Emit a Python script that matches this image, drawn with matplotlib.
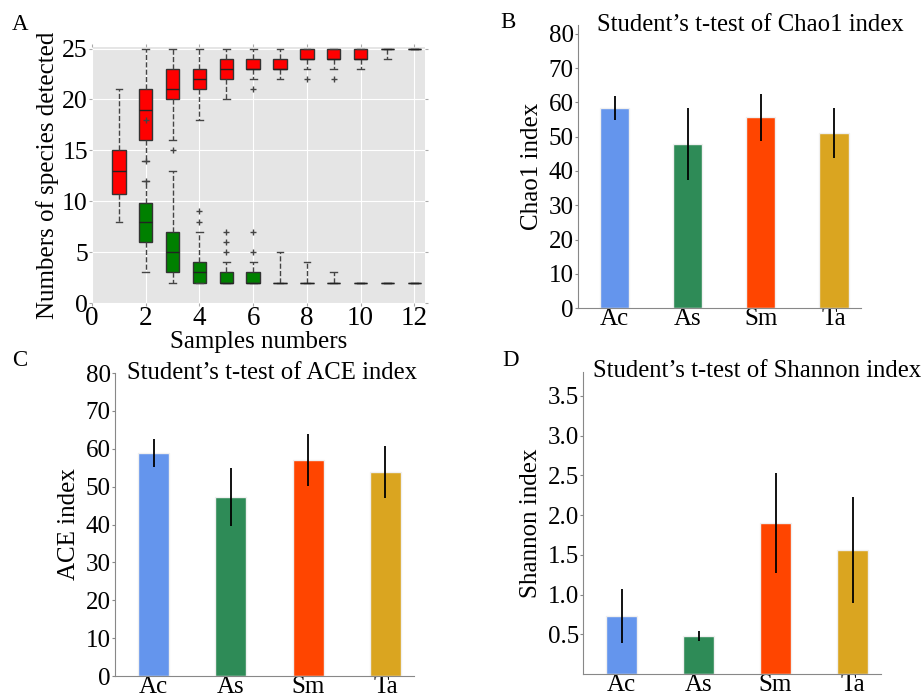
import numpy as np
import matplotlib
matplotlib.use("Agg")
import matplotlib.pyplot as plt

plt.rcParams['font.family'] = ['Liberation Serif', 'DejaVu Serif']

###data###
# panel A: rarefaction boxplots, 12 sample sizes
samples = list(range(1, 13))
# red group (upper)
red_q1 = [10.7, 16, 20, 21, 22, 23, 23, 24, 24, 24, 25, 25]
red_med = [13, 19, 21, 22, 23, 23, 23, 24, 24, 24, 25, 25]
red_q3 = [15, 21, 23, 23, 24, 24, 24, 25, 25, 25, 25, 25]
red_lo = [8, 14, 16, 18, 20, 22, 22, 23, 23, 23, 24, 25]
red_hi = [21, 25, 25, 25, 25, 25, 25, 25, 25, 25, 25, 25]
red_fl = [[], [12], [15], [], [], [21], [], [22], [22], [], [], []]
# green group (lower)
grn_q1 = [None, 6, 3, 2, 2, 2, 2, 2, 2, 2, 2, 2]
grn_med = [None, 8, 5, 3, 2, 2, 2, 2, 2, 2, 2, 2]
grn_q3 = [None, 9.8, 7, 4, 3, 3, 2, 2, 2, 2, 2, 2]
grn_lo = [None, 3, 2, 2, 2, 2, 2, 2, 2, 2, 2, 2]
grn_hi = [None, 12, 13, 7, 4, 4, 5, 4, 3, 2, 2, 2]
grn_fl = [[], [14, 18], [], [8, 9], [5, 6, 7], [5, 7], [], [], [], [], [], []]

# panels B-D
groups = ['Ac', 'As', 'Sm', 'Ta']
bar_colors = ['#6495ED', '#2E8B57', '#FF4500', '#DAA520']
chao1 = [58.3, 48.0, 55.7, 51.1]
chao1_err = [3.5, 10.5, 6.9, 7.2]
ace = [58.9, 47.2, 57.1, 53.8]
ace_err = [3.7, 7.6, 6.9, 6.9]
shannon = [0.735, 0.479, 1.895, 1.559]
shannon_err = [0.34, 0.063, 0.63, 0.67]

###functions###
def box_stats(q1, med, q3, lo, hi, fl):
    stats = []
    pos = []
    for i in range(len(samples)):
        if med[i] is None:
            continue
        stats.append(dict(q1=q1[i], med=med[i], q3=q3[i], whislo=lo[i], whishi=hi[i], fliers=fl[i]))
        pos.append(samples[i])
    return stats, pos

def draw_boxes(ax, stats, pos, color):
    ax.bxp(stats, positions=pos, widths=0.5, patch_artist=True, showfliers=True,
           boxprops=dict(facecolor=color, edgecolor='#333333', linewidth=1.0),
           medianprops=dict(color='#222222', linewidth=1.0),
           whiskerprops=dict(color='#444444', linestyle='--', linewidth=1.0),
           capprops=dict(color='#444444', linewidth=1.0),
           flierprops=dict(marker='+', markeredgecolor='#444444', markersize=5, linestyle='none'),
           manage_ticks=False)

def bar_panel(ax, values, errs, ylabel, title, ylim, yticks, tx, ty):
    x = np.arange(len(groups))
    ax.bar(x, values, width=0.4, color=bar_colors, edgecolor='#f0f0f0', linewidth=1.0)
    ax.errorbar(x, values, yerr=errs, fmt='none', ecolor='black', elinewidth=1.3, capsize=0)
    ax.set_xlim(-0.5, 3.37)
    ax.set_ylim(*ylim)
    ax.set_yticks(yticks)
    ax.set_xticks(x)
    ax.set_xticklabels(groups)
    for s in ['top', 'right']:
        ax.spines[s].set_visible(False)
    for s in ['left', 'bottom']:
        ax.spines[s].set_color('#888888')
    ax.tick_params(axis='both', labelsize=18, length=2, color='#888888', pad=1)
    ax.tick_params(axis='x', length=0, pad=0)
    ax.set_ylabel(ylabel, fontsize=18, labelpad=4)
    ax.text(tx, ty, title, transform=ax.transAxes, fontsize=17.8, ha='center', va='center')

###plot figure###
fig = plt.figure(figsize=(9.24, 6.95), dpi=100)

# A
axA = fig.add_axes([0.0996, 0.564, 0.3604, 0.3683])
axA.set_facecolor('#E5E5E5')
axA.grid(True, color='white', linewidth=0.8)
axA.set_axisbelow(True)
for s in axA.spines.values():
    s.set_visible(False)
rs, rp = box_stats(red_q1, red_med, red_q3, red_lo, red_hi, red_fl)
gs, gp = box_stats(grn_q1, grn_med, grn_q3, grn_lo, grn_hi, grn_fl)
draw_boxes(axA, rs, rp, '#FF0000')
draw_boxes(axA, gs, gp, '#008000')
axA.set_xlim(0, 12.4)
axA.set_ylim(0, 25.15)
axA.set_xticks([0, 2, 4, 6, 8, 10, 12])
axA.set_yticks([0, 5, 10, 15, 20, 25])
axA.tick_params(axis='both', labelsize=18.5, length=2, color='#aaaaaa', pad=1,
                right=True, top=True)
axA.tick_params(axis='x', labelsize=19.5, pad=0)
axA.set_xlabel('Samples numbers', fontsize=18, labelpad=0)
axA.set_ylabel('Numbers of species detected', fontsize=18, labelpad=2)

# B
axB = fig.add_axes([0.6255, 0.5568, 0.3063, 0.4072])
bar_panel(axB, chao1, chao1_err, 'Chao1 index', 'Student\u2019s t-test of Chao1 index',
          (0, 82.6), range(0, 81, 10), 0.61, 1.0)

# C
axC = fig.add_axes([0.1245, 0.0273, 0.3236, 0.436])
bar_panel(axC, ace, ace_err, 'ACE index', 'Student\u2019s t-test of ACE index',
          (0, 80), range(0, 81, 10), 0.525, 1.0)

# D
axD = fig.add_axes([0.631, 0.0302, 0.3225, 0.4345])
bar_panel(axD, shannon, shannon_err, 'Shannon index', 'Student\u2019s t-test of Shannon index',
          (0, 3.8), [0.5, 1.0, 1.5, 2.0, 2.5, 3.0, 3.5], 0.585, 1.003)

# panel letters
fig.text(12 / 924, 1 - 25 / 695, 'A', fontsize=16.5, va='center')
fig.text(500 / 924, 1 - 22 / 695, 'B', fontsize=16.5, va='center')
fig.text(12 / 924, 1 - 360 / 695, 'C', fontsize=16.5, va='center')
fig.text(502 / 924, 1 - 360 / 695, 'D', fontsize=16.5, va='center')

fig.savefig('out.png', dpi=100)
